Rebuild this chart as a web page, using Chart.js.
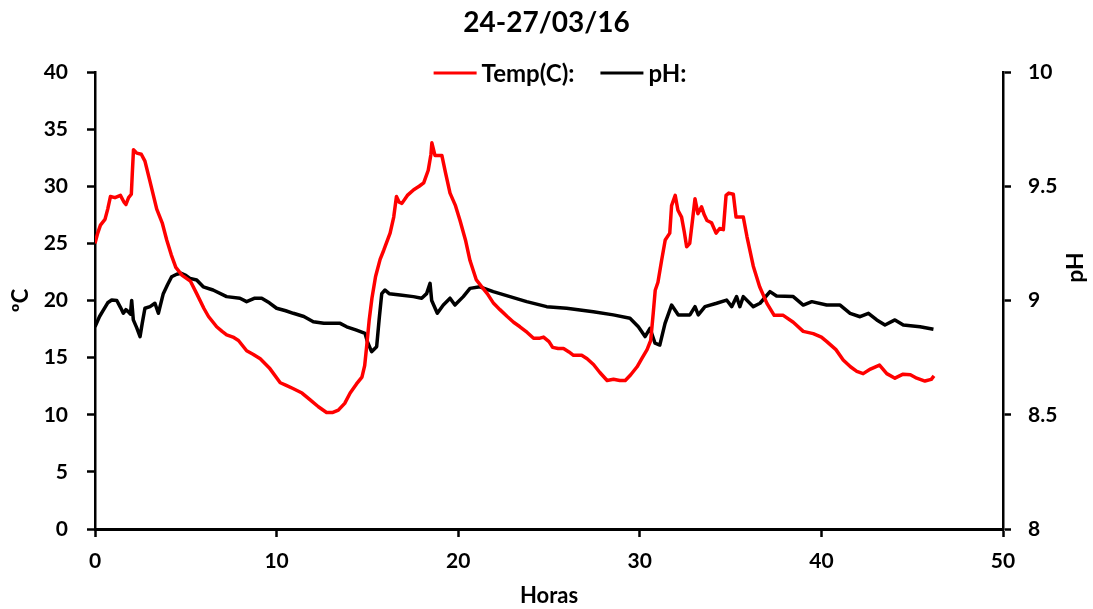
<!DOCTYPE html>
<html>
<head>
<meta charset="utf-8">
<script src="https://cdn.jsdelivr.net/npm/chart.js@4.4.1/dist/chart.umd.min.js"></script>
<style>
  html, body { margin: 0; padding: 0; background: #ffffff; }
  #wrap { width: 1093px; height: 609px; }
</style>
</head>
<body>
<div id="wrap"><canvas id="c" width="1093" height="609"></canvas></div>
<script>
// Titles and series names
const chartTitle = '24-27/03/16';
const seriesNames = ['Temp(C):', 'pH:'];
const xTitle = 'Horas';
const tempTitle = 'ºC';
const phTitle = 'pH';

// Tick values and labels
const xTickValues = [0, 10, 20, 30, 40, 50];
const tempTickValues = [0, 5, 10, 15, 20, 25, 30, 35, 40];
const phTickValues = [8, 8.5, 9, 9.5, 10];
const phTickLabels = ['8', '8.5', '9', '9.5', '10'];

// Water temperature (ºC) against elapsed hours
const tempHours = [
  0.0, 0.15, 0.3, 0.55, 0.7, 0.85, 1.1, 1.4, 1.6, 1.7, 1.85, 2.0, 2.05, 2.12, 2.3, 2.55, 2.75, 3.0, 3.4, 3.7,
  3.95, 4.2, 4.45, 4.8, 5.25, 5.6, 6.0, 6.25, 6.7, 7.0, 7.25, 7.6, 7.9, 8.35, 8.7, 9.1, 9.6, 10.2, 10.5, 10.9,
  11.4, 11.85, 12.3, 12.75, 13.1, 13.4, 13.75, 14.05, 14.4, 14.7, 14.85, 14.96, 15.1, 15.25, 15.45, 15.7, 15.9, 16.25, 16.45, 16.6,
  16.75, 16.9, 17.2, 17.55, 17.85, 18.1, 18.35, 18.5, 18.55, 18.72, 19.1, 19.3, 19.55, 19.85, 20.1, 20.4, 20.65, 21.0, 21.3, 21.6,
  21.95, 22.3, 22.7, 23.05, 23.4, 23.8, 24.15, 24.5, 24.7, 25.0, 25.2, 25.5, 25.8, 26.1, 26.35, 26.8, 27.1, 27.45, 27.8, 28.2,
  28.55, 28.9, 29.2, 29.5, 29.85, 30.1, 30.4, 30.6, 30.74, 30.85, 31.0, 31.2, 31.4, 31.65, 31.75, 31.95, 32.1, 32.3, 32.45, 32.58,
  32.75, 32.9, 33.04, 33.2, 33.4, 33.55, 33.7, 33.95, 34.2, 34.4, 34.6, 34.75, 34.9, 35.15, 35.3, 35.7, 35.9, 36.25, 36.6, 37.0,
  37.4, 37.9, 38.45, 39.0, 39.55, 40.0, 40.3, 40.8, 41.2, 41.6, 41.95, 42.3, 42.7, 43.2, 43.6, 44.05, 44.5, 44.9, 45.25, 45.7,
  46.05, 46.2
];
const tempValues = [
  25.0, 25.9, 26.6, 27.1, 28.0, 29.1, 29.0, 29.2, 28.6, 28.4, 29.0, 29.3, 31.0, 33.2, 32.9, 32.8, 32.2, 30.6, 28.0, 26.8,
  25.3, 24.0, 22.9, 22.2, 21.7, 20.6, 19.3, 18.6, 17.7, 17.3, 17.0, 16.8, 16.5, 15.6, 15.3, 14.9, 14.1, 12.8, 12.6, 12.3,
  11.9, 11.3, 10.7, 10.2, 10.2, 10.4, 11.0, 11.9, 12.7, 13.3, 14.3, 16.0, 18.3, 20.2, 22.1, 23.6, 24.4, 25.9, 27.3, 29.1,
  28.6, 28.5, 29.2, 29.7, 30.0, 30.3, 31.4, 32.8, 33.8, 32.7, 32.7, 31.2, 29.4, 28.3, 27.0, 25.3, 23.5, 21.8, 21.2, 20.6,
  19.75, 19.2, 18.6, 18.1, 17.7, 17.2, 16.7, 16.7, 16.8, 16.4, 15.9, 15.8, 15.8, 15.5, 15.2, 15.2, 14.9, 14.4, 13.7, 13.0,
  13.1, 13.0, 13.0, 13.5, 14.2, 14.9, 15.7, 16.5, 18.9, 20.9, 21.6, 23.5, 25.3, 25.9, 28.3, 29.2, 27.9, 27.3, 26.0, 24.7,
  25.0, 27.0, 28.9, 27.6, 28.2, 27.5, 27.0, 26.8, 25.9, 26.3, 26.2, 29.2, 29.4, 29.3, 27.3, 27.3, 25.6, 23.0, 21.2, 19.75,
  18.7, 18.7, 18.1, 17.3, 17.1, 16.8, 16.4, 15.7, 14.8, 14.2, 13.8, 13.6, 14.0, 14.35, 13.6, 13.2, 13.55, 13.5, 13.2, 12.95,
  13.1, 13.4
];

// pH against elapsed hours
const phHours = [
  0.0, 0.25, 0.46, 0.7, 0.92, 1.2, 1.4, 1.56, 1.7, 1.84, 1.95, 2.02, 2.11, 2.3, 2.48, 2.6, 2.75, 3.03, 3.3, 3.49,
  3.76, 4.0, 4.22, 4.5, 4.75, 5.0, 5.23, 5.6, 5.96, 6.5, 7.25, 7.98, 8.35, 8.8, 9.18, 9.6, 10.0, 10.5, 10.92, 11.5,
  12.02, 12.6, 13.12, 13.5, 13.86, 14.4, 14.87, 15.0, 15.23, 15.51, 15.65, 15.79, 15.97, 16.2, 16.8, 17.53, 17.99, 18.26, 18.45, 18.54,
  18.85, 19.18, 19.55, 19.82, 20.28, 20.65, 21.2, 21.93, 22.85, 23.77, 24.87, 25.97, 27.44, 28.54, 29.46, 29.92, 30.29, 30.56, 30.84, 31.1,
  31.39, 31.75, 32.12, 32.76, 33.04, 33.22, 33.59, 34.23, 34.78, 35.06, 35.33, 35.51, 35.7, 36.25, 36.62, 37.17, 37.53, 38.45, 39.0, 39.47,
  40.29, 41.03, 41.58, 42.13, 42.59, 43.05, 43.5, 44.05, 44.51, 45.43, 46.17
];
const phValues = [
  8.885, 8.93, 8.958, 8.99, 9.002, 9.0, 8.97, 8.944, 8.96, 8.95, 8.94, 9.0, 8.915, 8.88, 8.842, 8.9, 8.966, 8.973, 8.988, 8.944,
  9.03, 9.07, 9.104, 9.115, 9.119, 9.11, 9.097, 9.09, 9.06, 9.046, 9.017, 9.01, 8.995, 9.01, 9.01, 8.99, 8.966, 8.955, 8.944, 8.93,
  8.907, 8.9, 8.9, 8.9, 8.885, 8.87, 8.856, 8.82, 8.776, 8.798, 8.92, 9.03, 9.046, 9.03, 9.024, 9.017, 9.01, 9.03, 9.075, 9.0,
  8.944, 8.98, 9.01, 8.98, 9.017, 9.053, 9.06, 9.039, 9.017, 8.995, 8.973, 8.966, 8.951, 8.937, 8.922, 8.885, 8.842, 8.878, 8.813, 8.805,
  8.9, 8.98, 8.937, 8.937, 8.973, 8.937, 8.973, 8.988, 9.002, 8.973, 9.017, 8.973, 9.017, 8.973, 8.988, 9.039, 9.02, 9.017, 8.98, 8.995,
  8.98, 8.98, 8.944, 8.929, 8.944, 8.915, 8.893, 8.915, 8.893, 8.885, 8.874
];

const seriesColors = ['#ff0000', '#000000'];
const FONT = "Lato, 'Open Sans', 'DejaVu Sans', sans-serif";

const toPoints = (xs, ys) => xs.map((x, i) => ({ x: x, y: ys[i] }));

// Legend drawn on the top edge of the plot, centred over the chart
const topLegend = {
  id: 'topLegend',
  afterDraw(chart) {
    const ctx = chart.ctx;
    const sets = chart.data.datasets;
    const lineLen = 43, gap = 5, itemGap = 26;
    ctx.save();
    ctx.font = 'bold 24px ' + FONT;
    ctx.textBaseline = 'middle';
    ctx.textAlign = 'left';
    const widths = sets.map(d => ctx.measureText(d.label).width);
    const total = widths.reduce((a, w) => a + lineLen + gap + w, 0) + itemGap * (sets.length - 1);
    let x = 560 - total / 2;
    const y = chart.chartArea.top + 1;
    sets.forEach((d, i) => {
      ctx.strokeStyle = d.borderColor;
      ctx.lineWidth = 3;
      ctx.beginPath();
      ctx.moveTo(x, y);
      ctx.lineTo(x + lineLen, y);
      ctx.stroke();
      x += lineLen + gap;
      ctx.fillStyle = '#000';
      ctx.fillText(d.label, x, y + 1);
      x += widths[i] + itemGap;
    });
    ctx.restore();
  }
};

// Right-hand axis title, read bottom to top like the left one
const rightTitle = {
  id: 'rightTitle',
  afterDraw(chart) {
    const ctx = chart.ctx;
    const s = chart.scales.y1;
    ctx.save();
    ctx.font = 'bold 23px ' + FONT;
    ctx.fillStyle = '#000';
    ctx.textAlign = 'center';
    ctx.textBaseline = 'middle';
    ctx.translate(s.right - 17, (chart.chartArea.top + chart.chartArea.bottom) / 2 - 33);
    ctx.rotate(-Math.PI / 2);
    ctx.fillText(phTitle, 0, 0);
    ctx.restore();
  }
};

Chart.defaults.font.family = FONT;
Chart.defaults.font.weight = 'bold';
Chart.defaults.color = '#000';

const axisGrid = {
  display: true,
  drawOnChartArea: false,
  drawTicks: true,
  tickLength: 8,
  tickWidth: 2.5,
  tickColor: '#000'
};

new Chart(document.getElementById('c'), {
  type: 'line',
  data: {
    datasets: [
      {
        label: seriesNames[0],
        data: toPoints(tempHours, tempValues),
        borderColor: seriesColors[0],
        backgroundColor: seriesColors[0],
        borderWidth: 3.5,
        pointRadius: 0,
        tension: 0,
        borderJoinStyle: 'round',
        yAxisID: 'y'
      },
      {
        label: seriesNames[1],
        data: toPoints(phHours, phValues),
        borderColor: seriesColors[1],
        backgroundColor: seriesColors[1],
        borderWidth: 3.5,
        pointRadius: 0,
        tension: 0,
        borderJoinStyle: 'round',
        yAxisID: 'y1'
      }
    ]
  },
  options: {
    responsive: false,
    animation: false,
    events: [],
    layout: { padding: 0 },
    plugins: {
      legend: { display: false },
      tooltip: { enabled: false },
      title: {
        display: true,
        text: chartTitle,
        font: { size: 28, weight: 'bold', family: FONT },
        color: '#000',
        padding: { top: 6, bottom: 32.4 }
      }
    },
    scales: {
      x: {
        type: 'linear',
        min: 0,
        max: 50,
        afterFit: s => { s.height = 80; },
        afterBuildTicks: s => { s.ticks = xTickValues.map(v => ({ value: v })); },
        ticks: { font: { size: 21, weight: 'bold' }, color: '#000', padding: 12, maxRotation: 0 },
        grid: axisGrid,
        border: { display: true, color: '#000', width: 3 },
        title: { display: true, text: xTitle, font: { size: 22, weight: 'bold' }, color: '#000', padding: { top: 0, bottom: 0 } }
      },
      y: {
        type: 'linear',
        position: 'left',
        min: 0,
        max: 40,
        afterFit: s => { s.width = 95; },
        afterBuildTicks: s => { s.ticks = tempTickValues.map(v => ({ value: v })); },
        ticks: { font: { size: 21, weight: 'bold' }, color: '#000', padding: 19 },
        grid: axisGrid,
        border: { display: true, color: '#000', width: 2.5 },
        title: { display: true, text: tempTitle, font: { size: 22, weight: 'bold' }, color: '#000', padding: { top: 8, bottom: 0 } }
      },
      y1: {
        type: 'linear',
        position: 'right',
        min: 8,
        max: 10,
        afterFit: s => { s.width = 90; },
        afterBuildTicks: s => { s.ticks = phTickValues.map(v => ({ value: v })); },
        ticks: {
          font: { size: 21, weight: 'bold' },
          color: '#000',
          padding: 17,
          callback: (v, i) => phTickLabels[i]
        },
        grid: axisGrid,
        border: { display: true, color: '#000', width: 2.5 }
      }
    }
  },
  plugins: [topLegend, rightTitle]
});
</script>
</body>
</html>
